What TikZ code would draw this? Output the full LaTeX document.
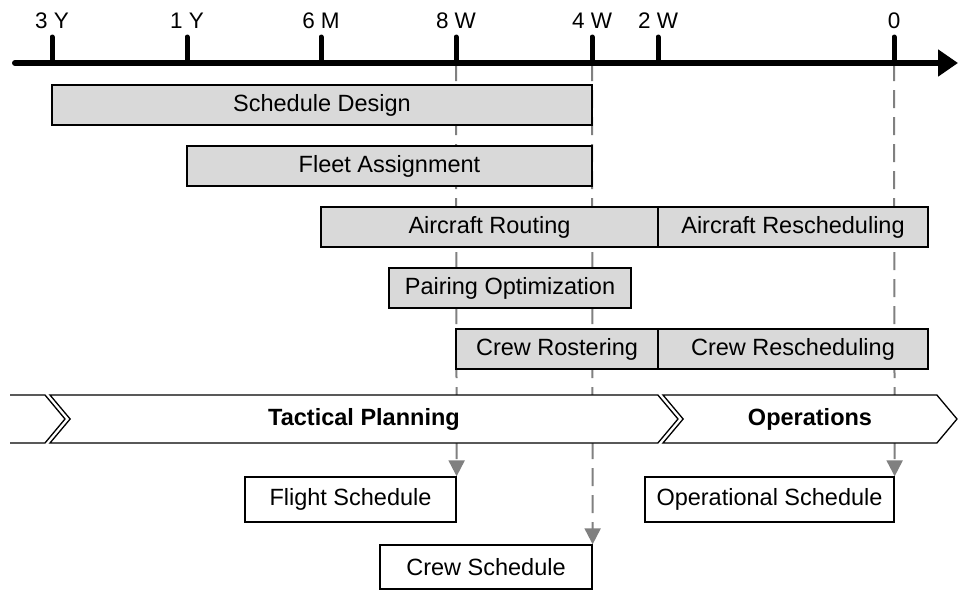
\documentclass[tikz,border=0pt]{standalone}
\usepackage{fontspec}
\setmainfont{Liberation Sans}
\usepackage{tikz}
\definecolor{taskgray}{RGB}{217,217,217}
\definecolor{guidegray}{RGB}{128,128,128}
\usetikzlibrary{arrows.meta,positioning,shapes.symbols,backgrounds}

\begin{document}
\begin{tikzpicture}[x=1pt, y=-1pt,
    task/.style={rectangle, draw=black, line width=1.3pt, fill=taskgray, minimum height=40pt,
      inner sep=0pt, font=\fontsize{23.5}{28}\selectfont},
    product/.style={rectangle, draw=black, line width=1.3pt, fill=white, minimum height=45pt,
      inner sep=0pt, font=\fontsize{23.5}{28}\selectfont},
    phase/.style={signal, signal to=east, signal from=west, signal pointer angle=100,
      draw=black, line width=1.3pt, fill=white, minimum height=48pt, inner sep=0pt,
      font=\fontsize{23.5}{28}\selectfont\bfseries},
    ticklabel/.style={inner sep=0pt, font=\fontsize{22.5}{27}\selectfont},
    axtick/.style={line width=5pt, line cap=round},
    guide/.style={draw=guidegray, line width=2pt, dash pattern=on 18pt off 9pt,
      -{Triangle[width=16pt,length=16pt,fill=guidegray]}}
  ]
    \useasboundingbox (0,0) rectangle (958,590);

    % Time axis
    \draw[line width=6pt, line cap=round, -{Triangle[width=26pt,length=20pt]}] (15,63) -- (958,63);
    \foreach \x/\name/\lbl in {52/t3y/3 Y, 187/t1y/1 Y, 321/t6m/6 M, 456/t8w/8 W,
                               592/t4w/4 W, 658/t2w/2 W, 894/t0/0} {
      \coordinate (\name) at (\x,63);
      \draw[axtick] (\x,37) -- (\name);
      \node[ticklabel] (l\name) at (\x,21) {\lbl};
    }

    % Row 1
    \node[task, minimum width=540pt] (sd) at (322,105) {Schedule Design};
    % Row 2
    \node[task, minimum width=405pt] (fa) at (389.5,166) {Fleet Assignment};
    % Row 3
    \node[task, minimum width=337pt] (ar) at (489.5,227) {Aircraft Routing};
    \node[task, minimum width=270pt] (ars) at (793,227) {Aircraft Rescheduling};
    % Row 4
    \node[task, minimum width=242pt] (po) at (510,288) {Pairing Optimization};
    % Row 5
    \node[task, minimum width=202pt] (cr) at (557,349) {Crew Rostering};
    \node[task, minimum width=270pt] (crs) at (793,349) {Crew Rescheduling};

    % Phases
    \draw[line width=1.3pt] (10,395) -- (45,395) -- (65,419) -- (45,443) -- (10,443);
    \node[phase, minimum width=628pt] (tp) at (364,419) {Tactical Planning};
    \node[phase, minimum width=294pt] (op) at (810,419) {Operations};

    % Results
    \node[product, minimum width=211pt] (fs) at (350.5,499.5) {Flight Schedule};
    \node[product, minimum width=249pt] (os) at (769.5,499.5) {Operational Schedule};
    \node[product, minimum width=212pt, minimum height=44pt] (cs) at (486,567) {Crew Schedule};

    \begin{scope}[on background layer]
      \draw[guide] (t8w) -- (fs.north east);
      \draw[guide] (t4w) -- (cs.north east);
      \draw[guide] (t0) -- (os.north east);
    \end{scope}

  \end{tikzpicture}
\end{document}
